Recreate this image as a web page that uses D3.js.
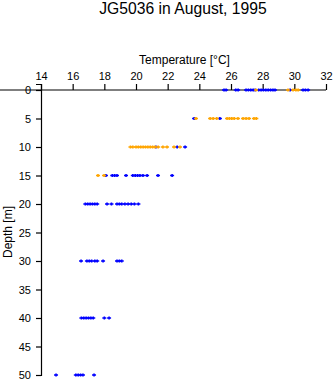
<!DOCTYPE html>
<html><head><meta charset="utf-8">
<script src="https://cdn.jsdelivr.net/npm/d3@7"></script>
<style>body{margin:0;background:#fff}svg{display:block}text{font-family:"Liberation Sans",Arial,sans-serif;fill:#000}</style>
</head><body><svg id="c" width="335" height="384"></svg>
<script>
const title = "JG5036 in August, 1995";
const xLabel = "Temperature [°C]";
const yLabel = "Depth [m]";
const xTicks = [14,16,18,20,22,24,26,28,30,32];
const yTicks = [0,5,10,15,20,25,30,35,40,45,50];
const depths = [0,5,10,15,20,30,40,50];
// temperatures per depth (same order as depths)
const blueTemps = [
  [25.56,25.69,26.3,26.45,26.95,27.1,27.25,27.4,27.52,27.75,27.9,28.05,28.2,28.35,28.5,28.65,28.78,29.73,30.55,30.7,30.87],
  [23.67,25.3],
  [21.26,22.6,23.1],
  [18.1,18.5,18.65,18.8,19.37,19.8,19.95,20.1,20.25,20.44,20.7,21.39,22.28],
  [16.8,16.95,17.1,17.25,17.4,17.55,18.17,18.45,18.8,18.95,19.1,19.3,19.5,19.7,19.9,20.15],
  [16.53,16.9,17.05,17.2,17.4,17.55,17.92,18.8,18.95,19.1],
  [16.55,16.7,16.85,17.0,17.15,17.3,18.0,18.3],
  [14.95,16.2,16.35,16.5,16.65,17.35]
];
const orangeTemps = [
  [27.58,29.6,29.92,30.1,30.24],
  [23.79,24.68,24.87,25.1,25.75,25.9,26.05,26.2,26.44,26.76,26.95,27.14,27.45,27.6],
  [19.65,19.8,20.0,20.15,20.3,20.45,20.6,20.75,20.9,21.05,21.2,21.4,21.7,21.96,22.4,22.78],
  [17.6,17.98],
  [],[],[],[]
];
const series = [
  {color:"#0000ff", temps: blueTemps},
  {color:"#ffa500", temps: orangeTemps}
];

const svg = d3.select("#c");
const x = d3.scaleLinear().domain([14,32]).range([41,326]);
const y = d3.scaleLinear().domain([0,50]).range([90,375]);

svg.append("text").attr("x",183).attr("y",14).attr("text-anchor","middle")
  .style("font-size","15.7px").text(title);
svg.append("text").attr("x",184.5).attr("y",64).attr("text-anchor","middle")
  .style("font-size","12px").text(xLabel);
svg.append("text").attr("transform","translate(12,232) rotate(-90)").attr("text-anchor","middle")
  .style("font-size","12px").text(yLabel);

const xa = svg.append("g").attr("transform","translate(0,90)")
  .call(d3.axisTop(x).tickValues(xTicks).tickSize(6).tickPadding(4).tickFormat(d3.format("d")));
const ya = svg.append("g").attr("transform","translate(41,0)")
  .call(d3.axisLeft(y).tickValues(yTicks).tickSize(5).tickPadding(5).tickFormat(d3.format("d")));
[xa,ya].forEach(g=>{
  g.select(".domain").attr("stroke","#000").attr("stroke-width",1.2);
  g.selectAll(".tick line").attr("stroke","#000").attr("stroke-width",1.2);
  g.selectAll("text").style("font-size","11px").attr("fill","#000").style("font-family","'Liberation Sans',Arial,sans-serif");
});
ya.select(".domain").attr("d","M-5,84.5H0.5V375.5H-5");
xa.select(".domain").attr("d","M-5,0H326");

series.forEach(s=>{
  const pts = [];
  s.temps.forEach((arr,i)=>arr.forEach(t=>pts.push([t,depths[i]])));
  svg.append("g").selectAll("path").data(pts).join("path")
    .attr("transform",d=>`translate(${x(d[0])},${y(d[1])})`)
    .attr("d","M-2,0H2M0,-1.5V1.5")
    .attr("stroke",s.color).attr("stroke-width",1.6).attr("fill","none");
});
</script></body></html>
